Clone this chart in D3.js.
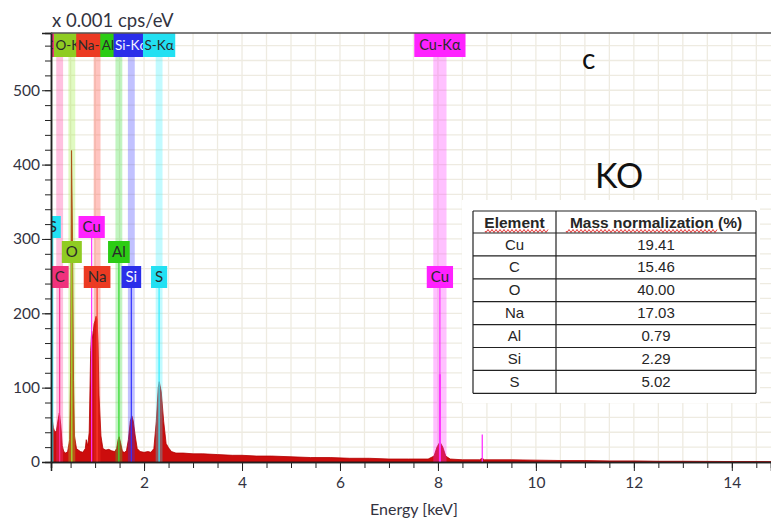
<!DOCTYPE html>
<html>
<head>
<meta charset="utf-8">
<script src="https://cdn.jsdelivr.net/npm/d3@7/dist/d3.min.js"></script>
<style>
  body { margin: 0; background: #fff; }
  svg { display: block; }
  .grid line { stroke: #eeebe1; stroke-width: 1.3; }
  .axis text { font-family: Lato, "Open Sans", sans-serif; font-size: 15.5px; fill: #33333f; }
  .axis path, .axis line { stroke: #222; }
  .tbl text { font-family: "Liberation Sans", Arial, sans-serif; fill: #262626; }
</style>
</head>
<body>
<svg id="chart" width="771" height="520"></svg>
<script>
// spectrum (keV, x 0.001 cps/eV)
var energy = [0.10, 0.12, 0.15, 0.18, 0.21, 0.24, 0.27, 0.30, 0.33, 0.36, 0.40, 0.44, 0.48, 0.50, 0.52, 0.54, 0.56, 0.58,
  0.62, 0.66, 0.70, 0.75, 0.80, 0.82, 0.85, 0.88, 0.91, 0.93, 0.95, 0.98, 1.00, 1.02, 1.04, 1.06, 1.08, 1.12, 1.16,
  1.22, 1.28, 1.34, 1.40, 1.44, 1.47, 1.49, 1.52, 1.56, 1.60, 1.64, 1.68, 1.72, 1.75, 1.78, 1.82, 1.86, 1.92, 2.00,
  2.08, 2.14, 2.20, 2.25, 2.29, 2.31, 2.35, 2.40, 2.45, 2.50, 2.56, 2.65, 2.80, 3.00, 3.20, 3.50, 3.80, 4.00, 4.30,
  4.60, 5.00, 5.40, 5.80, 6.20, 6.60, 7.00, 7.40, 7.80, 7.92, 7.98, 8.04, 8.10, 8.16, 8.25, 8.50, 8.85, 8.90, 8.95,
  9.50, 10.0, 10.5, 11.0, 11.5, 12.0, 12.5, 13.0, 13.5, 14.0, 14.8];
var counts = [72, 60, 46, 40, 42, 55, 66, 50, 22, 14, 12, 14, 30, 120, 419, 300, 110, 35,
  18, 16, 14, 13, 18, 30, 22, 40, 150, 176, 166, 186, 190, 196, 192, 160, 90, 35, 18,
  16, 17, 15, 14, 18, 30, 34, 26, 14, 13, 15, 30, 55, 62, 55, 35, 18, 14, 13,
  14, 13, 18, 55, 100, 108, 95, 55, 25, 19, 14, 12, 12, 11, 11, 10, 9, 9, 8,
  8, 7, 6, 6, 5, 5, 4, 4, 4, 8, 20, 27, 20, 8, 4, 3, 3, 5, 3,
  3, 2.5, 2, 2, 1.5, 1.5, 1, 1, 0.8, 0.6, 0.5];

// element lines with bands + top labels
var lineNames = ['C', 'O', 'Na', 'Al', 'Si', 'S', 'Cu'];
var lineEnergies = [0.277, 0.525, 1.041, 1.486, 1.740, 2.307, 8.040];
var bandWidths = [0.14, 0.14, 0.14, 0.14, 0.14, 0.14, 0.27];

// marker labels inside the plot
var markNames = ['S', 'Cu', 'O', 'Al', 'C', 'Na', 'Si', 'S', 'Cu'];
var markEnergies = [0.135, 0.930, 0.525, 1.486, 0.277, 1.041, 1.740, 2.307, 8.040];
var markRows = [0, 0, 1, 1, 2, 2, 2, 2, 2];

// Cu K sticks
var stickEnergies = [8.040, 8.905];
var stickHeights = [118, 37];

// table
var tblElements = ['Cu', 'C', 'O', 'Na', 'Al', 'Si', 'S'];
var tblMass = ['19.41', '15.46', '40.00', '17.03', '0.79', '2.29', '5.02'];

var xTicks = [2, 4, 6, 8, 10, 12, 14];
var yTicks = [0, 100, 200, 300, 400, 500];

var colors = {
  C: '#ff3399', O: '#99ee33', Na: '#ff3b30', Al: '#33dd33',
  Si: '#3333ff', S: '#33eeff', Cu: '#ff33ff'
};
var boxColors = {
  C: '#f0317c', O: '#8fcc22', Na: '#ec3a22', Al: '#2ccc14',
  Si: '#2a2eea', S: '#22e0f2', Cu: '#ff22ff'
};

var svg = d3.select('#chart');
var L = 51, R = 771, T = 33, B = 462;

var x = d3.scaleLinear().domain([0.1, 14.8]).range([L, R]);
var y = d3.scaleLinear().domain([0, 577]).range([B, T]);

svg.append('defs')
  .append('clipPath')
  .attr('id', 'plot-clip')
  .append('rect')
  .attr('x', L).attr('y', T).attr('width', R - L).attr('height', B - T)
;

// gridlines
var grid = svg.append('g').attr('class', 'grid');
grid.selectAll('line.v')
  .data(d3.range(0.5, 14.8, 0.5))
  .enter()
  .append('line')
  .attr('x1', function(d) { return x(d); })
  .attr('x2', function(d) { return x(d); })
  .attr('y1', T).attr('y2', B)
;
grid.selectAll('line.h')
  .data(d3.range(20, 577, 20))
  .enter()
  .append('line')
  .attr('y1', function(d) { return y(d); })
  .attr('y2', function(d) { return y(d); })
  .attr('x1', L).attr('x2', R)
;

var plot = svg.append('g').attr('clip-path', 'url(#plot-clip)');

// spectrum
var pts = energy.map(function(e, i) { return [e, counts[i]]; });
plot.append('path')
  .datum(pts)
  .attr('fill', '#cc0d0d')
  .attr('stroke', '#b30000')
  .attr('stroke-width', 0.8)
  .attr('d', d3.area()
    .x(function(d) { return x(d[0]); })
    .y0(y(0))
    .y1(function(d) { return y(d[1]); }))
;

// translucent bands over the spectrum
plot.selectAll('rect.band')
  .data(lineNames)
  .enter()
  .append('rect')
  .attr('class', 'band')
  .attr('x', function(d, i) { return x(lineEnergies[i] - bandWidths[i] / 2); })
  .attr('width', function(d, i) { return x(bandWidths[i]) - x(0); })
  .attr('y', T)
  .attr('height', B - T)
  .attr('fill', function(d) { return colors[d]; })
  .attr('opacity', 0.3)
;

// thin lines from marker labels down to the baseline
var rowTop = [216, 241, 266];
var boxH = 22;
plot.selectAll('line.mark')
  .data(markNames)
  .enter()
  .append('line')
  .attr('x1', function(d, i) { return x(markEnergies[i]); })
  .attr('x2', function(d, i) { return x(markEnergies[i]); })
  .attr('y1', function(d, i) { return rowTop[markRows[i]] + boxH; })
  .attr('y2', B)
  .attr('stroke', function(d) { return colors[d]; })
  .attr('stroke-width', 1.2)
;

// Cu K sticks
plot.selectAll('line.stick')
  .data(stickEnergies)
  .enter()
  .append('line')
  .attr('x1', function(d) { return x(d); })
  .attr('x2', function(d) { return x(d); })
  .attr('y1', function(d, i) { return y(stickHeights[i]); })
  .attr('y2', B)
  .attr('stroke', colors.Cu)
  .attr('stroke-width', function(d, i) { return i === 0 ? 2 : 1.3; })
;

// labelled boxes, centred on the energy
function drawBox(g, label, cx, top, h, fill, txtFill, fs, pad) {
  var t = g.append('text')
    .attr('x', cx)
    .attr('y', top + h / 2 + fs * 0.36)
    .attr('text-anchor', 'middle')
    .style('font-family', 'Lato, "Open Sans", sans-serif')
    .style('font-size', fs + 'px')
    .attr('fill', txtFill)
    .text(label)
  ;
  var w = t.node().getComputedTextLength() + pad;
  g.insert('rect', function() { return t.node(); })
    .attr('x', cx - w / 2)
    .attr('y', top)
    .attr('width', w)
    .attr('height', h)
    .attr('fill', fill)
  ;
}

lineNames.forEach(function(n, i) {
  var g = plot.append('g');
  drawBox(g, n + '-K\u03b1', x(lineEnergies[i]), T, 24, boxColors[n],
    n === 'Si' ? '#f4f4ff' : '#2a2a2a', n === 'Cu' ? 14.5 : 13.5, n === 'Cu' ? 10 : 3);
});

markNames.forEach(function(n, i) {
  var g = plot.append('g');
  drawBox(g, n, x(markEnergies[i]), rowTop[markRows[i]], boxH, boxColors[n],
    n === 'Si' ? '#f4f4ff' : '#2a2a2a', 15, 8);
});

// axes
var xMinor = svg.append('g')
  .attr('class', 'axis')
  .attr('transform', 'translate(0,' + B + ')')
  .call(d3.axisBottom(x).tickValues(d3.range(0.5, 14.8, 0.5)).tickSize(6).tickFormat(''))
;
var xAxis = svg.append('g')
  .attr('class', 'axis')
  .attr('transform', 'translate(0,' + B + ')')
  .call(d3.axisBottom(x).tickValues(xTicks).tickSize(9).tickPadding(6))
;
var yMinor = svg.append('g')
  .attr('class', 'axis')
  .attr('transform', 'translate(' + L + ',0)')
  .call(d3.axisLeft(y).tickValues(d3.range(20, 577, 20)).tickSize(6).tickFormat(''))
;
var yAxis = svg.append('g')
  .attr('class', 'axis')
  .attr('transform', 'translate(' + L + ',0)')
  .call(d3.axisLeft(y).tickValues(yTicks).tickSize(9).tickPadding(2))
;
[xMinor, xAxis, yMinor, yAxis].forEach(function(a) {
  a.select('.domain').attr('stroke', '#222').attr('stroke-width', 1.5);
});

// top frame
svg.append('line')
  .attr('x1', L).attr('x2', R).attr('y1', T).attr('y2', T)
  .attr('stroke', '#555').attr('stroke-width', 1.5)
;

svg.append('text')
  .attr('x', 52).attr('y', 27)
  .style('font-family', 'Lato, "Open Sans", sans-serif')
  .style('font-size', '18.5px')
  .attr('fill', '#33333f')
  .text('x 0.001 cps/eV')
;
svg.append('text')
  .attr('x', 414).attr('y', 515)
  .attr('text-anchor', 'middle')
  .style('font-family', 'Lato, "Open Sans", sans-serif')
  .style('font-size', '16px')
  .attr('fill', '#33333f')
  .text('Energy [keV]')
;

svg.append('text')
  .attr('x', 582).attr('y', 69)
  .style('font-family', 'Lato, "Open Sans", sans-serif')
  .style('font-size', '28px')
  .attr('fill', '#111')
  .text('c')
;
svg.append('text')
  .attr('x', 595).attr('y', 188)
  .style('font-family', 'Lato, "Open Sans", sans-serif')
  .style('font-size', '34px')
  .attr('fill', '#111')
  .text('KO')
;

// table
var tbl = svg.append('g').attr('class', 'tbl');
var tx0 = 473, tx1 = 556, tx2 = 756, ty0 = 211, hdrH = 22, rowH = 22.9;
var ty1 = ty0 + hdrH + rowH * tblElements.length;

tbl.append('rect')
  .attr('x', 462).attr('y', 200).attr('width', 298).attr('height', 203)
  .attr('fill', '#fff')
;

tbl.append('text')
  .attr('x', (tx0 + tx1) / 2).attr('y', ty0 + 16.5)
  .attr('text-anchor', 'middle')
  .style('font-size', '15.5px').style('font-weight', 'bold')
  .text('Element')
;
tbl.append('text')
  .attr('x', (tx1 + tx2) / 2).attr('y', ty0 + 16.5)
  .attr('text-anchor', 'middle')
  .style('font-size', '15.5px').style('font-weight', 'bold')
  .text('Mass normalization (%)')
;

// spell-check squiggles
function squiggle(x0, x1, yy) {
  var d = 'M' + x0 + ',' + yy;
  for (var s = x0; s < x1; s += 2) {
    d += 'L' + (s + 1) + ',' + (yy + ((s - x0) % 4 === 0 ? 1.5 : -1.5));
  }
  tbl.append('path')
    .attr('d', d)
    .attr('fill', 'none')
    .attr('stroke', '#e02020')
    .attr('stroke-width', 0.9)
  ;
}
squiggle(485, 548, ty0 + 20);
squiggle(566, 717, ty0 + 20);

tbl.selectAll('text.el')
  .data(tblElements)
  .enter()
  .append('text')
  .attr('x', (tx0 + tx1) / 2)
  .attr('y', function(d, i) { return ty0 + hdrH + rowH * i + 16.5; })
  .attr('text-anchor', 'middle')
  .style('font-size', '15px')
  .text(function(d) { return d; })
;
tbl.selectAll('text.val')
  .data(tblMass)
  .enter()
  .append('text')
  .attr('x', (tx1 + tx2) / 2)
  .attr('y', function(d, i) { return ty0 + hdrH + rowH * i + 16.5; })
  .attr('text-anchor', 'middle')
  .style('font-size', '15px')
  .text(function(d) { return d; })
;

// borders
var hy = [ty0, ty0 + hdrH];
tblElements.forEach(function(d, i) { hy.push(ty0 + hdrH + rowH * (i + 1)); });
tbl.selectAll('line.h')
  .data(hy)
  .enter()
  .append('line')
  .attr('x1', tx0).attr('x2', tx2)
  .attr('y1', function(d) { return d; })
  .attr('y2', function(d) { return d; })
  .attr('stroke', '#222').attr('stroke-width', 1.2)
;
tbl.selectAll('line.v')
  .data([tx0, tx1, tx2])
  .enter()
  .append('line')
  .attr('x1', function(d) { return d; })
  .attr('x2', function(d) { return d; })
  .attr('y1', ty0).attr('y2', ty1)
  .attr('stroke', '#222').attr('stroke-width', 1.2)
;
</script>
</body>
</html>
